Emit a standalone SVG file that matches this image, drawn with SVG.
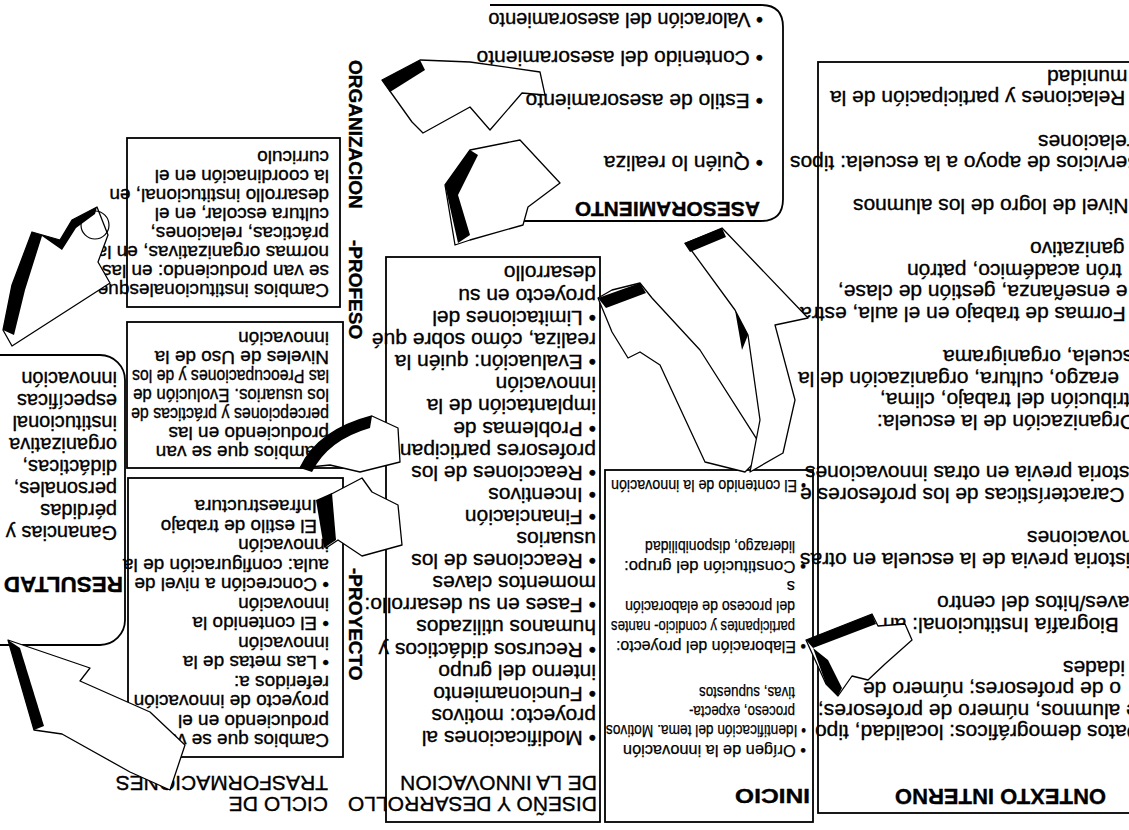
<svg xmlns="http://www.w3.org/2000/svg" width="1129" height="830" viewBox="0 0 1129 830">
<style>
.t{font-family:"Liberation Sans",Arial,sans-serif;font-size:21px;fill:#000;stroke:#000;stroke-width:0.35}
.m{font-size:19px}
.n{font-size:16.5px;stroke-width:0.25}
.r{font-size:20px}
.b{font-weight:bold}
.e{text-anchor:end}
.box{fill:none;stroke:#000;stroke-width:1.8}
.aw{fill:#fff;stroke:#000;stroke-width:1.3;stroke-linejoin:round}
.ab{fill:#000}
</style>
<rect width="1129" height="830" fill="#fff"/>
<g transform="rotate(180 564.5 415)">
<g id="contexto">
<rect class="box" x="-5" y="17" width="316" height="751"/>
<text class="t b e" x="234" y="41" style="font-size:22px">ONTEXTO INTERNO</text>
<text class="t e" x="82" y="760">munidad</text>
<text class="t e" x="299" y="739">Relaciones y participación de la</text>
<text class="t e" x="91" y="695">relaciones</text>
<text class="t e" x="339" y="674">Servicios de apoyo a la escuela: tipos</text>
<text class="t e" x="276" y="631">Nivel de logro de los alumnos</text>
<text class="t e" x="99" y="588">ganizativo</text>
<text class="t e" x="222" y="566">trón académico, patrón</text>
<text class="t e" x="291" y="545">e enseñanza, gestión de clase,</text>
<text class="t e" x="329" y="523">Formas de trabajo en el aula, estra</text>
<text class="t e" x="186" y="480">scuela, organigrama</text>
<text class="t e" x="331" y="458">erazgo, cultura, organización de la</text>
<text class="t e" x="249" y="437">stribución del trabajo, clima,</text>
<text class="t e" x="252" y="415">Organización de la escuela:</text>
<text class="t e" x="324" y="364">storia previa en otras innovaciones</text>
<text class="t e" x="329" y="342">Características de los profesores e</text>
<text class="t e" x="102" y="299">novaciones</text>
<text class="t e" x="329" y="277">Historia previa de la escuela en otras</text>
<text class="t e" x="192" y="234">aves/hitos del centro</text>
<text class="t e" x="246" y="212">Biografía Institucional: an</text>
<text class="t e" x="66" y="169">idades</text>
<text class="t e" x="266" y="148">o de profesores; número de</text>
<text class="t e" x="311" y="126">e alumnos, número de profesores;</text>
<text class="t e" x="314" y="105">Datos demográficos: localidad, tipo</text>
</g>
<g id="inicio">
<rect class="box" x="316" y="8" width="208" height="352"/>
<text class="t b" x="319" y="41" textLength="75" lengthAdjust="spacingAndGlyphs">INICIO</text>
<text class="t n" x="323" y="85" textLength="183" lengthAdjust="spacingAndGlyphs">• Orígen de la innovación</text>
<text class="t n" x="323" y="105" textLength="200" lengthAdjust="spacingAndGlyphs">• Identificación del tema. Motivos</text>
<text class="t n" x="334" y="124" textLength="106" lengthAdjust="spacingAndGlyphs">proceso, expecta-</text>
<text class="t n" x="334" y="143" textLength="96" lengthAdjust="spacingAndGlyphs">tivas, supuestos</text>
<text class="t n" x="323" y="189" textLength="190" lengthAdjust="spacingAndGlyphs">• Elaboración del proyecto:</text>
<text class="t n" x="334" y="209" textLength="184" lengthAdjust="spacingAndGlyphs">participantes y condicio- nantes</text>
<text class="t n" x="334" y="229" textLength="170" lengthAdjust="spacingAndGlyphs">del proceso de elaboración</text>
<text class="t n" x="334" y="249">s</text>
<text class="t n" x="323" y="269" textLength="182" lengthAdjust="spacingAndGlyphs">• Constitución del grupo:</text>
<text class="t n" x="334" y="289" textLength="150" lengthAdjust="spacingAndGlyphs">liderazgo, disponibilidad</text>
<text class="t n" x="323" y="350" textLength="195" lengthAdjust="spacingAndGlyphs">• El contenido de la innovación</text>
</g>
<g id="diseno">
<rect class="box" x="529" y="8" width="214" height="565"/>
<text class="t" x="532" y="33">DISEÑO Y DESARROLLO</text>
<text class="t" x="532" y="54">DE LA INNOVACION</text>
<text class="t" x="533" y="99">• Modificaciones al</text>
<text class="t" x="533" y="121">proyecto: motivos</text>
<text class="t" x="533" y="143">• Funcionamiento</text>
<text class="t" x="533" y="165">interno del grupo</text>
<text class="t" x="533" y="187">• Recursos didácticos y</text>
<text class="t" x="533" y="210">humanos utilizados</text>
<text class="t" x="533" y="232">• Fases en su desarrollo:</text>
<text class="t" x="533" y="254">momentos claves</text>
<text class="t" x="533" y="276">• Reacciones de los</text>
<text class="t" x="533" y="298">usuarios</text>
<text class="t" x="533" y="320">• Financiación</text>
<text class="t" x="533" y="342">• Incentivos</text>
<text class="t" x="533" y="364">• Reacciones de los</text>
<text class="t" x="533" y="386">profesores participantes</text>
<text class="t" x="533" y="408">• Problemas de</text>
<text class="t" x="533" y="431">implantación de la</text>
<text class="t" x="533" y="453">innovación</text>
<text class="t" x="533" y="475">• Evaluación: quién la</text>
<text class="t" x="533" y="497">realiza, cómo sobre qué</text>
<text class="t" x="533" y="519">• Limitaciones del</text>
<text class="t" x="533" y="541">proyecto en su</text>
<text class="t" x="533" y="564">desarrollo</text>
</g>
<g id="asesoramiento">
<path class="box" d="M639,609 L368,609 Q346,609 346,631 L346,803 Q346,825 368,825 L639,825"/>
<text class="t b" x="369" y="628">ASESORAMIENTO</text>
<text class="t" x="366" y="674">• Quién lo realiza</text>
<text class="t" x="366" y="736">• Estilo de asesoramiento</text>
<text class="t" x="366" y="779">• Contenido del asesoramiento</text>
<text class="t" x="366" y="817" style="font-size:20px">• Valoración del asesoramiento</text>
</g>
<g id="transformaciones">
<text class="t" x="801" y="33">CICLO DE</text>
<text class="t" x="801" y="54">TRASFORMACIONES</text>
<text class="t b m" transform="translate(780,770) rotate(-90)">ORGANIZACION</text>
<text class="t b m" transform="translate(780,590) rotate(-90)">-PROFESO</text>
<text class="t b m" transform="translate(780,262) rotate(-90)">-PROYECTO</text>
</g>
<g id="proyecto">
<rect class="box" x="786" y="73" width="215" height="279"/>
<text class="t m" x="800" y="96">Cambios que se van</text>
<text class="t m" x="800" y="115.5">produciendo en el</text>
<text class="t m" x="800" y="135">proyecto de innovación</text>
<text class="t m" x="800" y="154.5">referidos a:</text>
<text class="t m" x="800" y="174">• Las metas de la</text>
<text class="t m" x="800" y="193.5">innovación</text>
<text class="t m" x="800" y="213">• El contenido la</text>
<text class="t m" x="800" y="232.5">innovación</text>
<text class="t m" x="800" y="252">• Concreción a nivel de</text>
<text class="t m" x="800" y="271.5">aula: configuración de la</text>
<text class="t m" x="800" y="291">innovación</text>
<text class="t m" x="800" y="310.5">• El estilo de trabajo</text>
<text class="t m" x="800" y="330">• Infraestructura</text>
</g>
<g id="profesorado">
<rect class="box" x="786" y="362" width="216" height="146"/>
<text class="t m" x="800" y="384">Cambios que se van</text>
<text class="t m" x="800" y="403">produciendo en las</text>
<text class="t m" x="800" y="422" textLength="198" lengthAdjust="spacingAndGlyphs">percepciones y prácticas de</text>
<text class="t m" x="800" y="441" textLength="196" lengthAdjust="spacingAndGlyphs">los usuarios. Evolución de</text>
<text class="t m" x="800" y="460" textLength="197" lengthAdjust="spacingAndGlyphs">las Preocupaciones y de los</text>
<text class="t m" x="800" y="479">Niveles de Uso de la</text>
<text class="t m" x="800" y="498">innovación</text>
</g>
<g id="organizacion">
<rect class="box" x="789" y="523" width="213" height="169"/>
<text class="t m" x="800" y="546">Cambios institucionalesque</text>
<text class="t m" x="800" y="565">se van produciendo: en las</text>
<text class="t m" x="800" y="584">normas organizativas, en las</text>
<text class="t m" x="800" y="603">prácticas, relaciones,</text>
<text class="t m" x="800" y="622">cultura escolar, en el</text>
<text class="t m" x="800" y="641">desarrollo institucional, en</text>
<text class="t m" x="800" y="660">la coordinación en el</text>
<text class="t m" x="800" y="679">curriculo</text>
</g>
<g id="resultados">
<rect class="box" x="1004" y="185" width="160" height="290" rx="25"/>
<text class="t b" x="1006" y="253" style="font-size:22.5px">RESULTAD</text>
<text class="t r" x="1012" y="304">Ganancias y</text>
<text class="t r" x="1012" y="326">pérdidas</text>
<text class="t r" x="1012" y="348">personales,</text>
<text class="t r" x="1012" y="370">didácticas,</text>
<text class="t r" x="1012" y="392">organizativa</text>
<text class="t r" x="1012" y="414">institucional</text>
<text class="t r" x="1012" y="436">específicas</text>
<text class="t r" x="1012" y="458">innovación</text>
</g>
</g>
<g id="connectors">
<path class="aw" d="M806,640 L872,614 L878,626 L905,624 L912,640 L885,664 L868,680 L852,676 L838,696 L826,684 Z"/>
<path class="ab" d="M806,640 L872,614 L876,624 L813,648 Z M813,648 L828,660 L842,688 L838,696 L826,684 Z"/>
<path class="aw" d="M598,298 L612,290 L640,283 L652,298 L700,350 L765,452 L745,472 L705,462 L660,365 L640,352 L628,358 L612,332 Z"/>
<path class="ab" d="M598,298 L640,283 L646,293 L606,308 Z"/>
<path class="aw" d="M686,243 L722,228 L808,318 L775,325 L795,400 L783,453 L750,472 L760,420 L748,335 L735,310 Z"/>
<path class="ab" d="M684,243 L722,228 L726,237 L690,252 Z M735,310 L748,335 L742,350 Z"/>
<path class="aw" d="M300,468 Q318,430 372,416 L398,428 L400,462 L360,472 L330,465 Z"/>
<path class="ab" d="M300,468 Q318,430 372,416 L370,428 Q328,440 312,472 Z"/>
<path class="aw" d="M320,500 L362,478 L372,492 L398,505 L402,545 L362,556 L338,540 L326,548 Z"/>
<path class="ab" d="M316,500 L332,493 L336,540 L324,548 Z"/>
<path class="aw" d="M8,640 L90,668 L80,681 L150,712 L185,745 L170,790 L130,772 L62,734 L34,730 Z"/>
<path class="ab" d="M8,640 L34,730 L44,726 L20,648 Z"/>
<path class="aw" d="M12,346 L3,330 L12,285 L32,232 L60,240 L72,220 L97,207 L108,235 L98,262 L110,283 Z"/>
<path class="ab" d="M3,330 L12,285 L32,232 L42,236 L25,290 L14,335 Z M32,232 L60,240 L72,220 L97,207 L95,214 L76,228 L62,250 L42,236 Z"/>
<circle cx="95" cy="225" r="14" fill="none" stroke="#000" stroke-width="1.2"/>
<path class="aw" d="M382,80 L420,60 L470,62 L540,72 L545,95 L522,93 L490,130 L470,107 L423,133 L412,122 Z"/>
<path class="ab" d="M382,80 L420,60 L425,70 L390,92 Z"/>
<path class="aw" d="M445,185 L470,150 L520,140 L560,183 L528,207 L523,225 L470,240 L455,245 Z"/>
<path class="ab" d="M445,185 L470,150 L478,155 L458,195 L470,235 L458,243 Z"/>
</g>
</svg>
